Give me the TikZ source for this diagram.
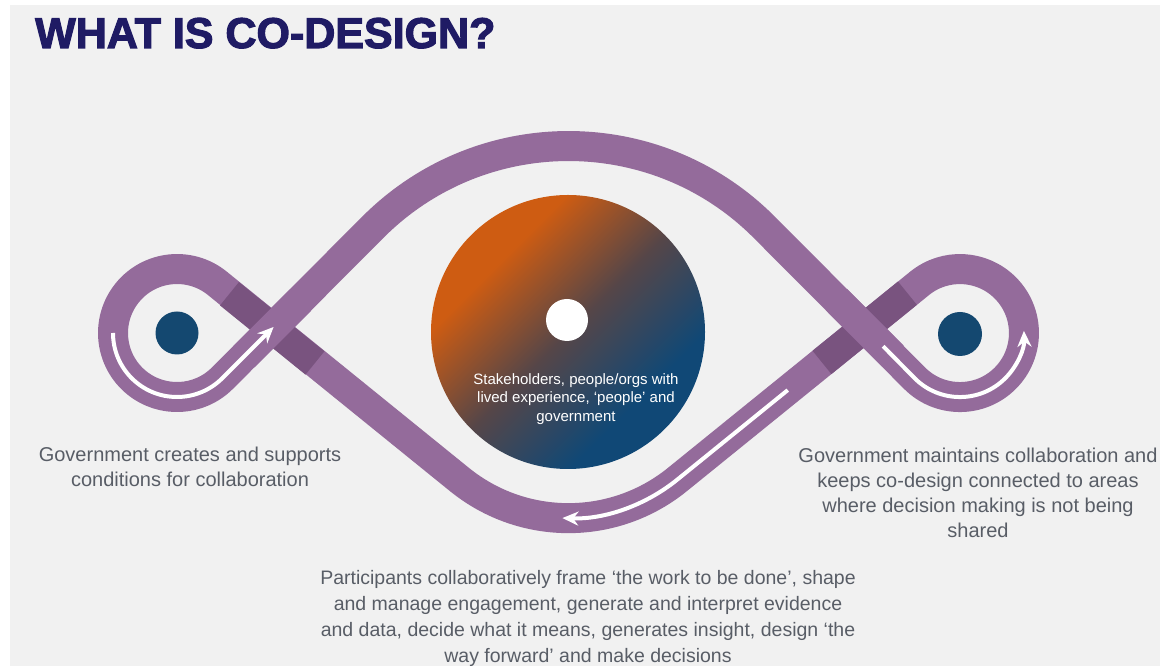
\documentclass[tikz,border=0pt]{standalone}
\usepackage{fontspec}
\setmainfont{Liberation Sans}
\newfontfamily\titlefont{Liberation Sans Bold}[FakeBold=2.6]
\usetikzlibrary{arrows.meta}

\definecolor{cdbg}{RGB}{241,241,241}
\definecolor{cdpurple}{RGB}{148,107,155}
\definecolor{cdshadow}{RGB}{121,83,127}
\definecolor{cdnavy}{RGB}{31,27,100}
\definecolor{cdtext}{RGB}{88,93,102}
\definecolor{cddot}{RGB}{20,72,112}
\definecolor{cdorange}{RGB}{206,92,18}
\definecolor{cdblue}{RGB}{16,72,118}
\definecolor{cdmid}{RGB}{86,70,72}
\pgfdeclarehorizontalshading{hubshade}{100bp}{color(0bp)=(cdorange); color(32bp)=(cdorange); color(50bp)=(cdmid); color(68bp)=(cdblue); color(100bp)=(cdblue)}

\begin{document}
\begin{tikzpicture}[x=1pt, y=1pt,
    band/.style={draw=cdpurple, line width=30pt, line join=round},
    shadowband/.style={draw=cdshadow, line width=30pt},
    flowarrow/.style={draw=white, line width=4pt, -{Stealth[length=16pt, width=14pt]}},
    note/.style={text=cdtext, align=center, inner sep=0pt, anchor=north, font=\fontsize{20}{25}\selectfont}]
    % Frame
    \useasboundingbox (0,0) rectangle (1160,666);
    \fill [white] (0,0) rectangle (1160,666);
    \fill [cdbg] (10,0) rectangle (1160,661);

    % Title
    \node [anchor=base west, inner sep=0pt, text=cdnavy, font=\titlefont\fontsize{43}{43}\selectfont] (title) at (35,618) {WHAT IS CO-DESIGN?};

    % Points on the band
    \coordinate (t1) at (222.3,287.7); % left loop, lower side
    \coordinate (a1) at (373.1,439.0); % top arch, left end
    \coordinate (t2) at (914.7,287.7); % right loop, lower side
    \coordinate (b2) at (677.3,186.4); % bottom arch, right end
    \coordinate (t4) at (217.3,382.7); % left loop, upper side
    \coordinate (xl) at (272.2,337.6); % left crossing
    \coordinate (xr) at (864.7,338.2); % right crossing

    % Band
    \draw [band] (t1) -- (a1) arc [start angle=135, end angle=45, radius=276.4pt]
        -- (t2) arc [start angle=225, end angle=489, radius=64pt]
        -- (b2) arc [start angle=-51, end angle=-129, radius=173pt]
        -- (t4) arc [start angle=51, end angle=315, radius=64pt] -- cycle;

    % Crossings (strand underneath is darker)
    \draw [shadowband] ([shift={(141:55)}]xl) -- ([shift={(-39:55)}]xl);
    \draw [band] ([shift={(225:40)}]xl) -- ([shift={(45:40)}]xl);
    \draw [shadowband] ([shift={(39:55)}]xr) -- ([shift={(219:55)}]xr);
    \draw [band] ([shift={(135:40)}]xr) -- ([shift={(-45:40)}]xr);

    % Flow arrows
    \draw [flowarrow] (113,333) arc [start angle=180, end angle=315, radius=64pt] -- ([shift={(45:2)}]xl);
    \draw [flowarrow] ([shift={(-45:26)}]xr) -- (t2) arc [start angle=225, end angle=362, radius=64pt];
    \draw [flowarrow] ([shift={(219:99)}]xr) -- (b2) arc [start angle=-51, end angle=-92, radius=173pt];

    % Eyes
    \fill [cddot] (177,333) circle [radius=21.5pt];
    \fill [cddot] (960,332) circle [radius=22pt];

    % Hub
    \shade [shading=hubshade, shading angle=-45] (568,334) circle [radius=137pt];
    \fill [white] (567,346) circle [radius=21pt];
    \node [text=white, align=center, inner sep=0pt, anchor=north, font=\fontsize{15}{18.5}\selectfont] (hubtext) at (576,293) {Stakeholders, people/orgs with\\lived experience, ‘people’ and\\government};

    % Notes
    \node [note] (leftnote) at (190,219.6) {Government creates and supports\\conditions for collaboration};
    \node [note] (rightnote) at (978,218.6) {Government maintains collaboration and\\keeps co-design connected to areas\\where decision making is not being\\shared};
    \node [note, font=\fontsize{19.5}{26}\selectfont] (bottomnote) at (588,96) {Participants collaboratively frame ‘the work to be done’, shape\\and manage engagement, generate and interpret evidence\\and data, decide what it means, generates insight, design ‘the\\way forward’ and make decisions};
\end{tikzpicture}
\end{document}
